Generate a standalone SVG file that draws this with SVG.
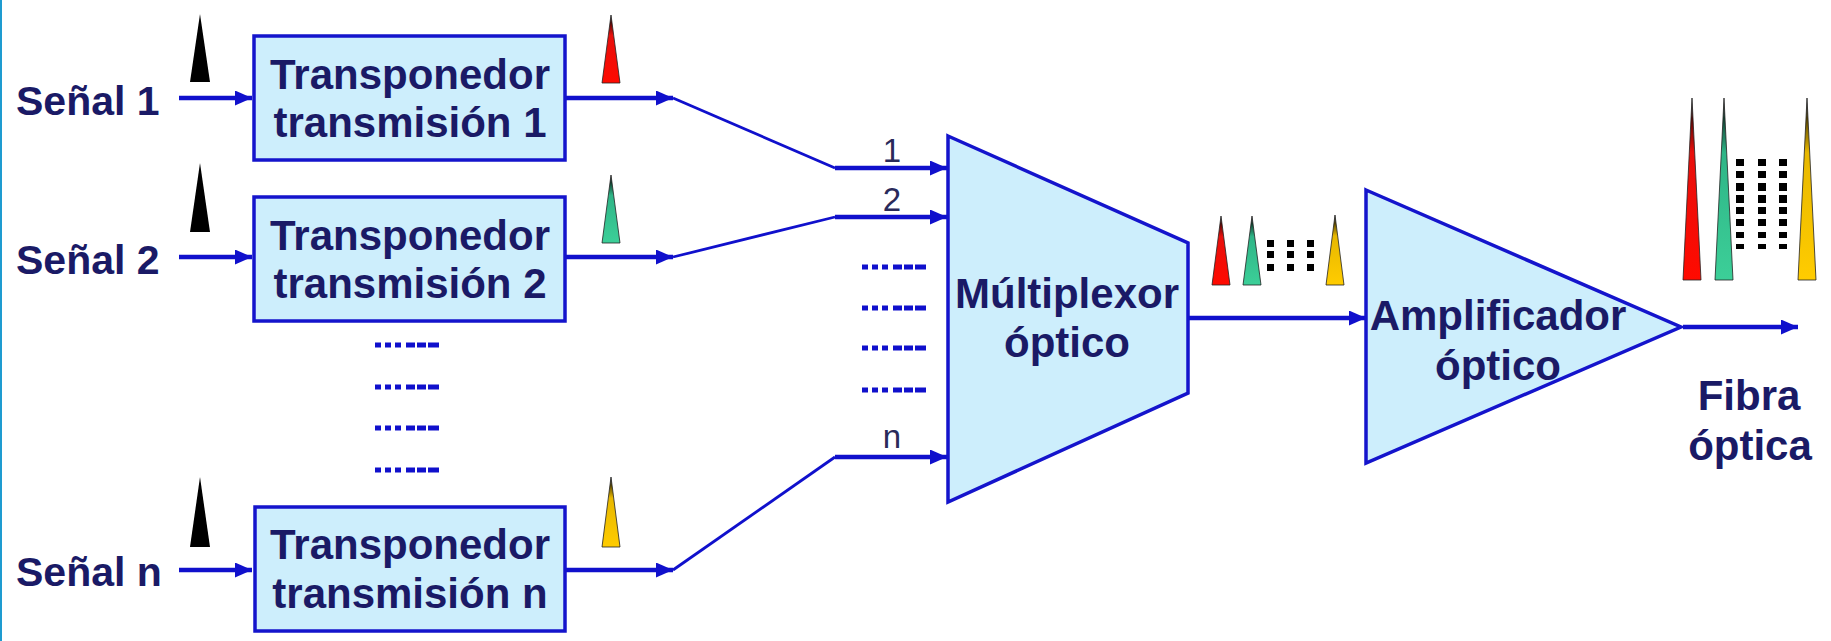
<svg xmlns="http://www.w3.org/2000/svg" width="1831" height="641" viewBox="0 0 1831 641">
<defs>
<style>
.box{fill:#cdeefc;stroke:#1414cc;stroke-width:3.5}
.t{font-family:"Liberation Sans",Arial,sans-serif;font-weight:bold;font-size:42px;fill:#1a1a66;text-anchor:middle}
.sl{font-family:"Liberation Sans",Arial,sans-serif;font-weight:bold;font-size:41px;fill:#1a1a66}
.lb{font-family:"Liberation Sans",Arial,sans-serif;font-size:33px;fill:#2a2a5a;text-anchor:middle}
.ar{stroke:#1010cc;stroke-width:4.5;fill:none;marker-end:url(#ah)}
.th{stroke:#1010cc;stroke-width:2.8;fill:none}
.dt{stroke:#1010cc;stroke-width:5;stroke-dasharray:6 4 6 4 6 5 9 2 9 2 11 40}
.pk{stroke:#222;stroke-width:0.8}
.bd{fill:#000}
</style>
<marker id="ah" markerUnits="userSpaceOnUse" markerWidth="17" markerHeight="15" viewBox="0 0 17 15" refX="17" refY="7.5" orient="auto">
<path d="M0,0 L17,7.5 L0,15 z" fill="#1010cc"/>
</marker>
<linearGradient id="gr" x1="0" y1="0" x2="0" y2="1"><stop offset="0" stop-color="#000"/><stop offset="0.3" stop-color="#e8100c"/><stop offset="1" stop-color="#ff0a00"/></linearGradient>
<linearGradient id="gg" x1="0" y1="0" x2="0" y2="1"><stop offset="0" stop-color="#000"/><stop offset="0.3" stop-color="#2fb587"/><stop offset="1" stop-color="#3ccf98"/></linearGradient>
<linearGradient id="gy" x1="0" y1="0" x2="0" y2="1"><stop offset="0" stop-color="#000"/><stop offset="0.3" stop-color="#e8b800"/><stop offset="1" stop-color="#ffcc00"/></linearGradient>
</defs>
<rect x="0" y="0" width="1831" height="641" fill="#fff"/>
<line x1="1" y1="0" x2="1" y2="641" stroke="#1e9bd0" stroke-width="2"/>

<g id="connectors">
<line class="ar" x1="179" y1="98" x2="252" y2="98"/>
<line class="ar" x1="179" y1="257" x2="252" y2="257"/>
<line class="ar" x1="179" y1="570" x2="252" y2="570"/>
<line class="ar" x1="565" y1="98" x2="673" y2="98"/>
<line class="ar" x1="565" y1="257" x2="673" y2="257"/>
<line class="ar" x1="565" y1="570" x2="673" y2="570"/>
<polyline class="th" points="673,98 835,168"/>
<polyline class="th" points="673,257 835,217"/>
<polyline class="th" points="673,570 835,457"/>
<line class="ar" x1="835" y1="168" x2="947" y2="168"/>
<line class="ar" x1="835" y1="217" x2="947" y2="217"/>
<line class="ar" x1="835" y1="457" x2="947" y2="457"/>
<line class="ar" x1="1188" y1="318" x2="1366" y2="318"/>
<line class="ar" x1="1683" y1="327" x2="1798" y2="327"/>
<text class="lb" x="892" y="162">1</text>
<text class="lb" x="892" y="211">2</text>
<text class="lb" x="892" y="448">n</text>
<line class="dt" x1="375" y1="345" x2="444" y2="345"/>
<line class="dt" x1="375" y1="387" x2="444" y2="387"/>
<line class="dt" x1="375" y1="428" x2="444" y2="428"/>
<line class="dt" x1="375" y1="470" x2="444" y2="470"/>
<line class="dt" x1="862" y1="267" x2="929" y2="267"/>
<line class="dt" x1="862" y1="308" x2="929" y2="308"/>
<line class="dt" x1="862" y1="348" x2="929" y2="348"/>
<line class="dt" x1="862" y1="390" x2="929" y2="390"/>
</g>

<g id="senal1"><text class="sl" x="16" y="115">Señal 1</text></g>
<g id="senal2"><text class="sl" x="16" y="274">Señal 2</text></g>
<g id="senaln"><text class="sl" x="16" y="586">Señal n</text></g>

<g id="trans1">
<rect class="box" x="254" y="36" width="311" height="124"/>
<text class="t" x="410" y="89">Transponedor</text>
<text class="t" x="410" y="137">transmisión 1</text>
</g>
<g id="trans2">
<rect class="box" x="254" y="197" width="311" height="124"/>
<text class="t" x="410" y="250">Transponedor</text>
<text class="t" x="410" y="298">transmisión 2</text>
</g>
<g id="transn">
<rect class="box" x="255" y="507" width="310" height="124"/>
<text class="t" x="410" y="559">Transponedor</text>
<text class="t" x="410" y="608">transmisión n</text>
</g>

<g id="mux">
<polygon class="box" points="948,136 1188,243 1188,393 948,502"/>
<text class="t" x="1067" y="308">Múltiplexor</text>
<text class="t" x="1067" y="357">óptico</text>
</g>

<g id="amp">
<polygon class="box" points="1366,190 1681,327 1366,463"/>
<text class="t" x="1498" y="330">Amplificador</text>
<text class="t" x="1498" y="380">óptico</text>
</g>

<g id="fibra">
<text class="t" x="1749" y="410">Fibra</text>
<text class="t" x="1750" y="460">óptica</text>
</g>

<g id="peaks">
<polygon fill="#000" points="200,14 210,82 190,82"/>
<polygon fill="#000" points="200,163 210,232 190,232"/>
<polygon fill="#000" points="200,477 210,547 190,547"/>
<polygon class="pk" fill="url(#gr)" points="611,15 620,83 602,83"/>
<polygon class="pk" fill="url(#gg)" points="611,175 620,243 602,243"/>
<polygon class="pk" fill="url(#gy)" points="611,477 620,547 602,547"/>
<polygon class="pk" fill="url(#gr)" points="1221,216 1230,285 1212,285"/>
<polygon class="pk" fill="url(#gg)" points="1252,216 1261,285 1243,285"/>
<polygon class="pk" fill="url(#gy)" points="1335,215 1344,285 1326,285"/>
<g class="bd">
<rect x="1267" y="240" width="7" height="7"/><rect x="1287" y="240" width="7" height="7"/><rect x="1307" y="240" width="7" height="7"/>
<rect x="1267" y="251" width="7" height="7"/><rect x="1287" y="251" width="7" height="7"/><rect x="1307" y="251" width="7" height="7"/>
<rect x="1267" y="264" width="7" height="7"/><rect x="1287" y="264" width="7" height="7"/><rect x="1307" y="264" width="7" height="7"/>
</g>
<polygon class="pk" fill="url(#gr)" points="1692,98 1701,280 1683,280"/>
<polygon class="pk" fill="url(#gg)" points="1724,98 1733,280 1715,280"/>
<polygon class="pk" fill="url(#gy)" points="1807,98 1816,280 1798,280"/>
<g class="bd">
<rect x="1736" y="159" width="8" height="7"/><rect x="1758" y="159" width="8" height="7"/><rect x="1779" y="159" width="8" height="7"/>
<rect x="1736" y="171" width="8" height="7"/><rect x="1758" y="171" width="8" height="7"/><rect x="1779" y="171" width="8" height="7"/>
<rect x="1736" y="183" width="8" height="8"/><rect x="1758" y="183" width="8" height="8"/><rect x="1779" y="183" width="8" height="8"/>
<rect x="1736" y="195" width="8" height="8"/><rect x="1758" y="195" width="8" height="8"/><rect x="1779" y="195" width="8" height="8"/>
<rect x="1736" y="207" width="8" height="7"/><rect x="1758" y="207" width="8" height="7"/><rect x="1779" y="207" width="8" height="7"/>
<rect x="1736" y="219" width="8" height="7"/><rect x="1758" y="219" width="8" height="7"/><rect x="1779" y="219" width="8" height="7"/>
<rect x="1736" y="232" width="8" height="6"/><rect x="1758" y="232" width="8" height="6"/><rect x="1779" y="232" width="8" height="6"/>
<rect x="1736" y="244" width="8" height="5"/><rect x="1758" y="244" width="8" height="5"/><rect x="1779" y="244" width="8" height="5"/>
</g>
</g>
</svg>
